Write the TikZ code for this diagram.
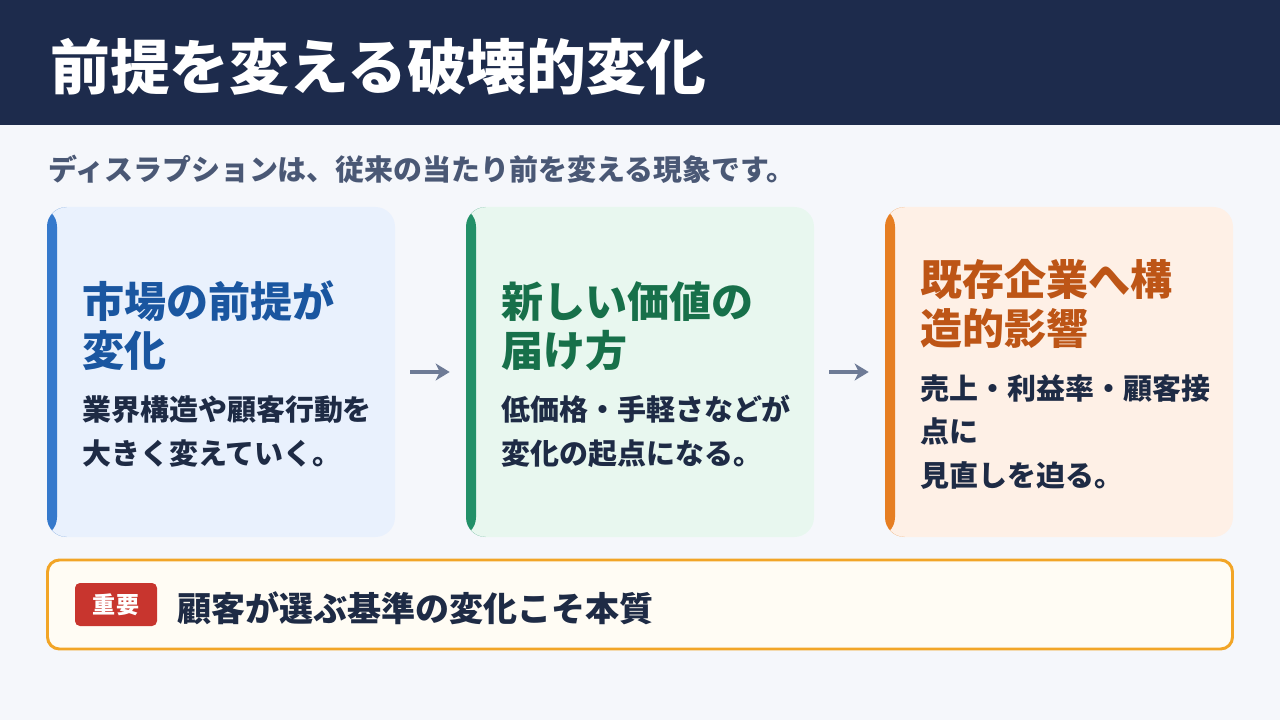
\documentclass[tikz,border=0pt]{standalone}
\usepackage{fontspec}
\setmainfont{Noto Sans CJK JP}
\usepackage{tikz}
\usetikzlibrary{arrows.meta, positioning}
\definecolor{pagebg}{HTML}{F5F7FB}
\definecolor{headnavy}{HTML}{1D2B4C}
\definecolor{subgray}{HTML}{4A5875}
\definecolor{bodyink}{HTML}{1E2B45}
\definecolor{arrowgray}{HTML}{6E7B96}
\definecolor{blueFill}{HTML}{E9F1FD}
\definecolor{blueBar}{HTML}{3579CC}
\definecolor{blueHead}{HTML}{1A56A0}
\definecolor{greenFill}{HTML}{E8F7EF}
\definecolor{greenBar}{HTML}{229068}
\definecolor{greenHead}{HTML}{17704A}
\definecolor{orangeFill}{HTML}{FEF0E6}
\definecolor{orangeBar}{HTML}{E67E22}
\definecolor{orangeHead}{HTML}{BD5516}
\definecolor{noteFill}{HTML}{FFFCF4}
\definecolor{noteLine}{HTML}{F2A526}
\definecolor{badgeRed}{HTML}{C8352E}
\newcommand{\pxu}{0.025cm}

\begin{document}
\begin{tikzpicture}[x=\pxu, y=-\pxu,
  card/.style={rounded corners=14pt, inner sep=0, minimum width=348*\pxu, minimum height=330*\pxu,
    path picture={\fill[#1] (path picture bounding box.south west) rectangle ([xshift=10*\pxu]path picture bounding box.north west);}},
  head/.style={anchor=base west, inner sep=0, align=left, font=\bfseries\fontsize{29.9}{34.9}\selectfont},
  body/.style={anchor=base west, inner sep=0, align=left, color=bodyink, font=\bfseries\fontsize{20.6}{30.6}\selectfont},
  arrow/.style={-{Stealth[length=10pt, width=12pt, inset=3pt]}, line width=2.8pt, color=arrowgray}
]
% Page and header band
\useasboundingbox[fill=pagebg] (0,0) rectangle (1280,720);
\fill[headnavy] (0,0) rectangle (1280,125);
\node[anchor=base west, inner sep=0, text=white, font=\bfseries\fontsize{42.5}{50}\selectfont] (title) at (50,90) {前提を変える破壊的変化};
\node[anchor=base west, inner sep=0, text=subgray, font=\bfseries\fontsize{20.6}{25}\selectfont] (subtitle) at (48,181) {ディスラプションは、従来の当たり前を変える現象です。};

% Three cards
\node[card=blueBar, fill=blueFill] (c1) at (221,372) {};
\node[card=greenBar, fill=greenFill] (c2) at (640,372) {};
\node[card=orangeBar, fill=orangeFill] (c3) at (1059,372) {};

% Card texts (anchored on the last line)
\node[head, text=blueHead] (h1) at (82,367) {市場の前提が\\変化};
\node[body] (b1) at (82,464) {業界構造や顧客行動を\\大きく変えていく。};
\node[head, text=greenHead] (h2) at (501,367) {新しい価値の\\届け方};
\node[body] (b2) at (501,464) {低価格・手軽さなどが\\変化の起点になる。};
\node[head, text=orangeHead] (h3) at (920,345) {既存企業へ構\\造的影響};
\node[body] (b3) at (920,486) {売上・利益率・顧客接\\点に\\見直しを迫る。};

% Arrows between cards
\draw[arrow] ([xshift=15*\pxu]c1.east) -- ([xshift=-16*\pxu]c2.west);
\draw[arrow] ([xshift=15*\pxu]c2.east) -- ([xshift=-16*\pxu]c3.west);

% Key message
\node[draw=noteLine, line width=2.1pt, fill=noteFill, rounded corners=8.5pt, minimum width=1185*\pxu, minimum height=89*\pxu] (note) at (640,604.5) {};
\node[fill=badgeRed, rounded corners=3.5pt, minimum width=82*\pxu, minimum height=43*\pxu, inner sep=0, text=white, font=\bfseries\fontsize{16.4}{20}\selectfont] (badge) at (116,604.5) {重要};
\node[anchor=base west, inner sep=0, text=bodyink, font=\bfseries\fontsize{24.2}{30}\selectfont] (keytext) at (177,621) {顧客が選ぶ基準の変化こそ本質};
\end{tikzpicture}
\end{document}
